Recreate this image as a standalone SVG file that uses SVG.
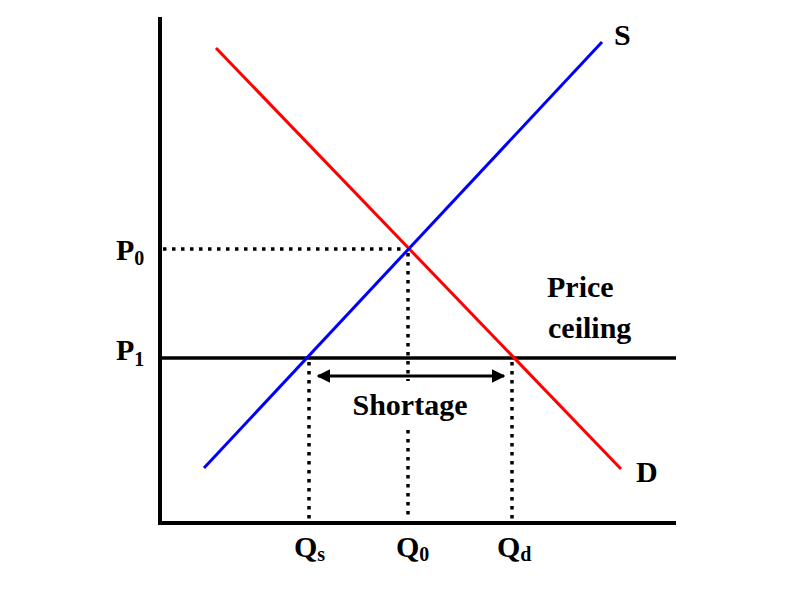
<svg xmlns="http://www.w3.org/2000/svg" width="801" height="593" viewBox="0 0 801 593">
<style>
.t{font-family:"Liberation Serif","Times New Roman",serif;font-weight:bold;fill:#000}
.big{font-size:30px}
.sub{font-size:20px}
.dot{stroke:#000;stroke-width:3.5;stroke-dasharray:3.5 5.5;fill:none}
.ax{stroke:#000;stroke-width:4;fill:none}
</style>
<defs>
<marker id="ah" viewBox="0 0 10 10" refX="9" refY="5" markerWidth="4.5" markerHeight="4.5" orient="auto-start-reverse" markerUnits="strokeWidth">
<path d="M0,0 L10,5 L0,10 Z" fill="#000"/>
</marker>
</defs>
<rect width="801" height="593" fill="#fff"/>
<g id="connectors">
<path class="dot" d="M163,249 H405"/>
<path class="dot" d="M309,362 V520"/>
<path class="dot" d="M408,253 V381"/>
<path class="dot" d="M408,430 V520"/>
<path class="dot" d="M512,362 V520"/>
<path stroke="#000" stroke-width="3" fill="none" d="M318,376 H504" marker-start="url(#ah)" marker-end="url(#ah)"/>
</g>
<g id="axes">
<path class="ax" d="M160,17 V523 H676"/>
</g>
<g id="price-ceiling">
<path stroke="#000" stroke-width="3.5" d="M160,358 H676"/>
<text class="t big" x="547" y="297">Price</text>
<text class="t big" x="548" y="338">ceiling</text>
</g>
<g id="demand">
<path stroke="#f00" stroke-width="3" d="M216,48 L621,469"/>
<text class="t big" x="636" y="482">D</text>
</g>
<g id="supply">
<path stroke="#00f" stroke-width="3" d="M204,468 L602,42"/>
<text class="t big" x="614" y="45">S</text>
</g>
<g id="labels">
<text class="t big" x="116" y="260">P<tspan class="sub" dy="5">0</tspan></text>
<text class="t big" x="116" y="360">P<tspan class="sub" dy="6">1</tspan></text>
<text class="t big" x="294" y="557">Q<tspan class="sub" dy="4">s</tspan></text>
<text class="t big" x="396" y="557">Q<tspan class="sub" dy="4">0</tspan></text>
<text class="t big" x="497" y="557">Q<tspan class="sub" dy="4">d</tspan></text>
<text class="t big" x="410" y="415" text-anchor="middle">Shortage</text>
</g>
</svg>
